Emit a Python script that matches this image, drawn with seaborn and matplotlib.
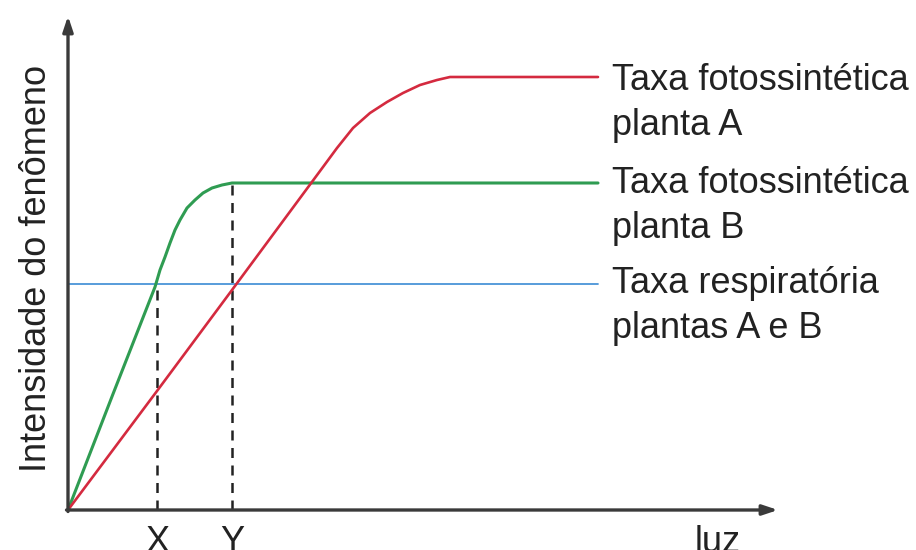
import numpy as np
import pandas as pd
import seaborn as sns
import matplotlib.pyplot as plt

# ========== 数据（读图估计，单位≈像素，原点在坐标轴交点） ==========
green_x = [0, 45, 87, 92, 97, 102, 107, 112, 119, 127, 135, 144, 154, 164, 530]
green_y = [0, 116, 223, 240, 253, 267, 280, 290, 302, 310, 317, 322, 325, 327, 327]

red_x = [0, 89, 164, 255, 269, 285, 302, 319, 335, 352, 369, 382, 530]
red_y = [0, 119, 220, 343, 362, 382, 397, 408, 417, 425, 430, 433, 433]

resp_x = [0, 530]
resp_y = [226, 226]

pt_x, pt_y = 89, 227      # X：植物B补偿点
pt_yx, pt_yy = 164, 327   # Y：植物A补偿点

series_labels = ['Taxa fotossintética\nplanta A',
                 'Taxa fotossintética\nplanta B',
                 'Taxa respiratória\nplantas A e B']
tick_labels = ['X', 'Y']
x_name = 'luz'
y_name = 'Intensidade do fenômeno'
# ================================================================

sns.set_style('white')
plt.rcParams['font.family'] = ['Liberation Sans', 'DejaVu Sans']

fig = plt.figure(figsize=(9.16, 5.5), dpi=100)
ax = fig.add_axes([0, 0, 1, 1])
ax.set_xlim(-68, 848)
ax.set_ylim(-40, 510)
ax.axis('off')

RED, GREEN, BLUE = '#d42a3f', '#2f9c52', '#4a94d8'
AXC = '#3a3a3a'

sns.lineplot(x=resp_x, y=resp_y, ax=ax, color=BLUE, lw=1.3)
sns.lineplot(x=green_x, y=green_y, ax=ax, color=GREEN, lw=2.2)
sns.lineplot(x=red_x, y=red_y, ax=ax, color=RED, lw=1.9)
for ln in ax.lines:
    ln.set_solid_joinstyle('round')

# 虚线
for xv, yv in [(pt_x, pt_y), (pt_yx, pt_yy)]:
    ax.plot([xv, xv], [0, yv], color='#222222', lw=1.8, ls=(0, (4, 3)), zorder=1)

# 坐标轴 + 箭头
arrow = dict(arrowstyle='-|>,head_length=0.9,head_width=0.3', lw=2.4,
             color=AXC, shrinkA=0, shrinkB=0)
ax.annotate('', xy=(0, 494), xytext=(0, -1.5), arrowprops=arrow)
ax.annotate('', xy=(710, 0), xytext=(-1.5, 0), arrowprops=arrow)

fs = 26
ax.text(pt_x, -15, tick_labels[0], fontsize=fs, ha='center', va='top', color='#222222')
ax.text(pt_yx, -15, tick_labels[1], fontsize=fs, ha='center', va='top', color='#222222')
ax.text(650, -15, x_name, fontsize=fs, ha='center', va='top', color='#222222')
ax.text(-31, 242, y_name, fontsize=fs, rotation=90, ha='center', va='center',
        color='#222222')

for lab, yc in zip(series_labels, [407, 304, 204]):
    ax.text(544, yc, lab, fontsize=fs, ha='left', va='center',
            linespacing=1.35, color='#222222')

plt.savefig('out.png', dpi=100)
